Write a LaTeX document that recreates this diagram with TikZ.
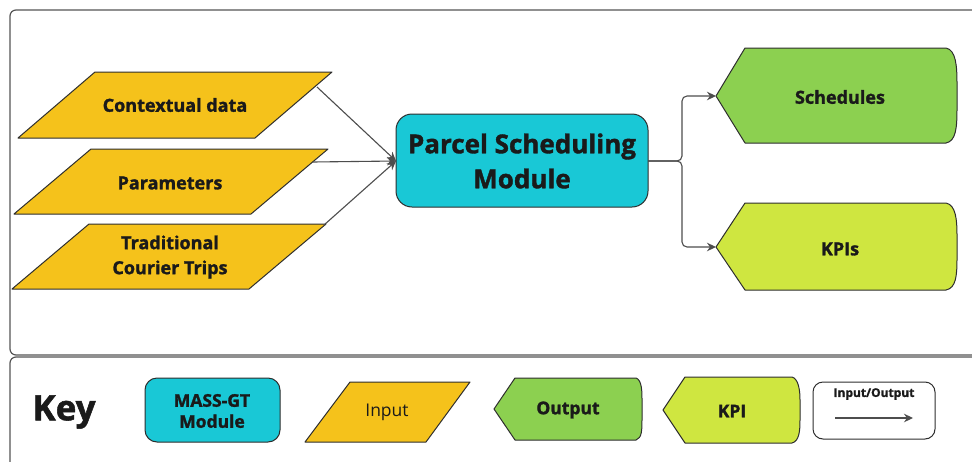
\documentclass[tikz,border=0pt]{standalone}
\usepackage{fontspec}
\setmainfont{Open Sans}[BoldFeatures={FakeBold=1.5}]
\usetikzlibrary{arrows.meta}

\definecolor{inyellow}{HTML}{F5C21B}
\definecolor{modcyan}{HTML}{19C8D6}
\definecolor{outgreen}{HTML}{8CD050}
\definecolor{kpilime}{HTML}{CFE640}
\definecolor{edge}{HTML}{2E2E2E}
\definecolor{frame}{HTML}{555555}
\definecolor{ink}{HTML}{1A1A1A}

\tikzset{
  shapeline/.style={draw=edge, line width=1pt, line join=round},
  label/.style={text=ink, font=\bfseries, align=center, inner sep=0pt},
  flow/.style={draw=edge!85, line width=1.1pt, -{Stealth[length=9pt,width=8.5pt]}},
  framebox/.style={draw=frame, line width=1.2pt, rounded corners=6pt},
  big/.style={font=\bfseries\fontsize{18}{25}\selectfont}
}

\begin{document}
\begin{tikzpicture}[x=1pt, y=-1pt]
\useasboundingbox (0,0) rectangle (972,461);
\clip (0,0) rectangle (972,461);
\fill[white] (0,0) rectangle (972,461);

% outer frames: diagram area and key area
\draw[framebox] (10,10) rectangle (990,355);
\draw[framebox] (10,357) rectangle (990,480);

% ---------- inputs ----------
\filldraw[shapeline, fill=inyellow] (18,138) -- (95,72) -- (332,72) -- (255,138) -- cycle;
\node[label, big] (ctx) at (175,105) {Contextual data};
\coordinate (ctxE) at (317,87);

\filldraw[shapeline, fill=inyellow] (14,214) -- (91,149) -- (328,149) -- (251,214) -- cycle;
\node[label, big] (par) at (170,183) {Parameters};
\coordinate (parE) at (313,162);

\filldraw[shapeline, fill=inyellow] (12,289) -- (89,224) -- (326,224) -- (249,289) -- cycle;
\node[label, big] (trip) at (170,257) {Traditional\\Courier Trips};
\coordinate (tripE) at (324,225);

% ---------- module ----------
\filldraw[shapeline, fill=modcyan, rounded corners=16pt] (396,114) rectangle (648,207);
\node[label, font=\bfseries\fontsize{26}{35}\selectfont] (mod) at (522,161) {Parcel Scheduling\\Module};
\coordinate (modW) at (396,161);
\coordinate (modE) at (648,161);

% ---------- outputs ----------
\filldraw[shapeline, fill=outgreen]
  (716,96) -- (745,48) -- (946,48)
  .. controls (956,50) and (957,66) .. (957,84) -- (957,108)
  .. controls (957,128) and (956,141) .. (946,143) -- (745,143) -- cycle;
\node[label, big] (sch) at (840,97) {Schedules};
\coordinate (schW) at (716,96);

\filldraw[shapeline, fill=kpilime]
  (716,247) -- (745,203) -- (946,203)
  .. controls (956,205) and (957,220) .. (957,236) -- (957,258)
  .. controls (957,276) and (956,288) .. (946,290) -- (745,290) -- cycle;
\node[label, big] (kpi) at (840,249) {KPIs};
\coordinate (kpiW) at (716,247);

% ---------- connectors ----------
\draw[flow] (ctxE) -- (modW);
\draw[flow] (parE) -- (modW);
\draw[flow] (tripE) -- (modW);
\draw[flow, rounded corners=5pt] (modE) -- (682,161) |- (schW);
\draw[flow, rounded corners=5pt] (modE) -- (682,161) |- (kpiW);

% ---------- key ----------
\node[label, font=\bfseries\fontsize{35}{40}\selectfont] (keyt) at (64,412) {Key};

\filldraw[shapeline, fill=modcyan, rounded corners=12pt] (145,378) rectangle (280,442);
\node[label, font=\bfseries\fontsize{17.5}{21}\selectfont] (kmod) at (212,411) {MASS-GT\\Module};

\filldraw[shapeline, fill=inyellow] (305,442) -- (350,382) -- (470,382) -- (426,442) -- cycle;
\node[label, font=\fontsize{17.5}{21}\selectfont] (kin) at (387,412) {Input};

\filldraw[shapeline, fill=outgreen]
  (494,409) -- (515,378) -- (636,378)
  .. controls (642,380) and (642,392) .. (642,400) -- (642,418)
  .. controls (642,430) and (642,438) .. (636,440) -- (515,440) -- cycle;
\node[label, font=\bfseries\fontsize{17.5}{21}\selectfont] (kout) at (568,410) {Output};

\filldraw[shapeline, fill=kpilime]
  (663,410) -- (685,377) -- (792,377)
  .. controls (799,379) and (800,392) .. (800,400) -- (800,420)
  .. controls (800,432) and (799,441) .. (792,443) -- (685,443) -- cycle;
\node[label, font=\bfseries\fontsize{17.5}{21}\selectfont] (kkpi) at (732,411) {KPI};

\draw[shapeline, fill=white, rounded corners=10pt] (813,382) rectangle (935,439);
\node[label, font=\bfseries\fontsize{12}{14}\selectfont] (kio) at (874,394) {Input/Output};
\coordinate (kioA) at (835,418);
\coordinate (kioB) at (913,418);
\draw[flow] (kioA) -- (kioB);
\end{tikzpicture}
\end{document}
